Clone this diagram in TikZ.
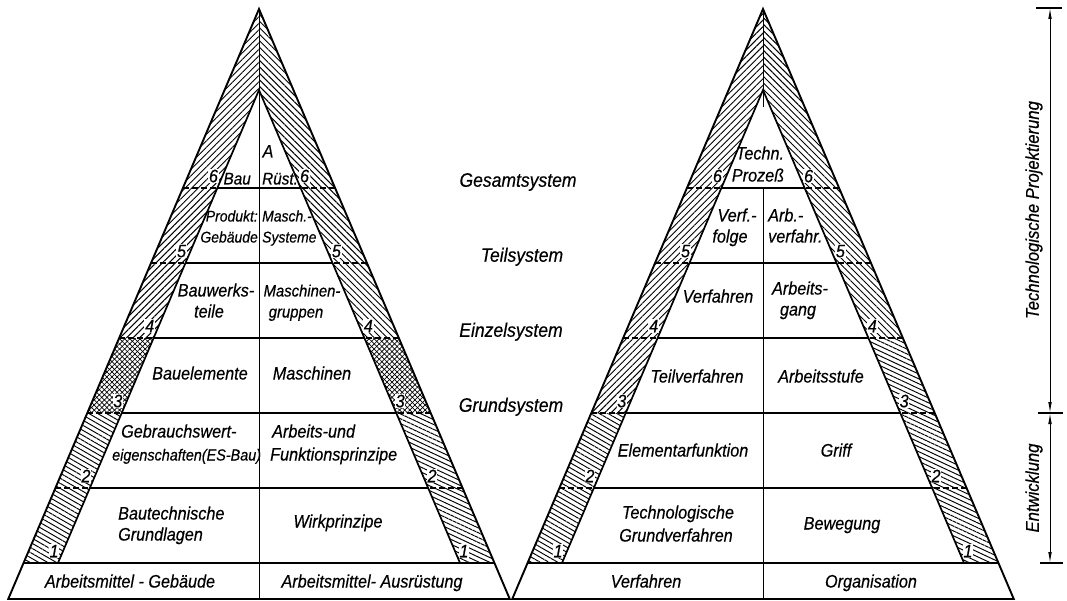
\documentclass[tikz,border=0pt]{standalone}
\usepackage{fontspec}
\setmainfont{Liberation Sans}[FakeStretch=0.9,FakeBold=0.4]
\usetikzlibrary{patterns.meta,arrows.meta}

\tikzset{
  outline/.style={line width=1.9pt, line join=miter},
  inedge/.style={line width=1.7pt, line join=miter},
  levelline/.style={line width=1.1pt},
  bandlevel/.style={line width=1.1pt, dash pattern=on 6pt off 3pt},
  midline/.style={line width=1pt},
  lbl/.style={font=\fontsize{18}{20}\selectfont\itshape, inner sep=0pt, text height=12.5pt, text depth=3.5pt},
  lblsmall/.style={lbl, font=\fontsize{15.5}{18}\selectfont\itshape},
  lblmid/.style={lbl, font=\fontsize{17}{19}\selectfont\itshape},
  num/.style={font=\fontsize{18}{18}\selectfont\itshape, fill=white, inner sep=0.8pt, text height=12.5pt, text depth=0pt},
  sys/.style={font=\fontsize{19.5}{21}\selectfont\itshape, inner sep=0pt, text height=13.5pt, text depth=4pt},
  dimlbl/.style={font=\fontsize{18.5}{20}\selectfont\itshape, inner sep=0pt},
  dimline/.style={line width=0.9pt, {Latex[length=11pt,width=3.6pt]}-{Latex[length=11pt,width=3.6pt]}},
  tickline/.style={line width=1.2pt},
  hNE/.style={pattern={Lines[angle=45,distance=4.6pt,line width=0.95pt]}},
  hNW/.style={pattern={Lines[angle=135,distance=4.6pt,line width=0.95pt]}},
  hX1/.style={pattern={Lines[angle=45,distance=3.6pt,line width=0.7pt]}},
  hX2/.style={pattern={Lines[angle=135,distance=3.6pt,line width=0.7pt]}},
  hLL/.style={pattern={Lines[angle=150,distance=4.4pt,line width=0.95pt]}},
  hRL/.style={pattern={Lines[angle=155,distance=4.4pt,line width=0.95pt]}},
}

% band pieces: #1 centre x, outer apex y=9, inner apex y=90, half slope 0.425
\newcommand\bandtopL[3]{\fill[#3] (#1,9) -- ({#1-0.425*(#2-9)},#2) -- ({#1-0.425*(#2-90)},#2) -- (#1,90) -- cycle;}
\newcommand\bandtopR[3]{\fill[#3] (#1,9) -- ({#1+0.425*(#2-9)},#2) -- ({#1+0.425*(#2-90)},#2) -- (#1,90) -- cycle;}
\newcommand\bandL[4]{\fill[#4] ({#1-0.425*(#2-9)},#2) -- ({#1-0.425*(#3-9)},#3) -- ({#1-0.425*(#3-90)},#3) -- ({#1-0.425*(#2-90)},#2) -- cycle;}
\newcommand\bandR[4]{\fill[#4] ({#1+0.425*(#2-9)},#2) -- ({#1+0.425*(#3-9)},#3) -- ({#1+0.425*(#3-90)},#3) -- ({#1+0.425*(#2-90)},#2) -- cycle;}
\newcommand\numL[4]{\node[num] (#4) at ({#1-0.425*(#2-102)-9},{#2-12}) {#3};}
\newcommand\numR[4]{\node[num] (#4) at ({#1+0.425*(#2-102)+9},{#2-12}) {#3};}
\newcommand\dashL[2]{\draw[bandlevel] ({#1-0.425*(#2-9)},#2) -- ({#1-0.425*(#2-90)},#2);}
\newcommand\dashR[2]{\draw[bandlevel] ({#1+0.425*(#2-9)},#2) -- ({#1+0.425*(#2-90)},#2);}
\newcommand\innerlevel[2]{\draw[levelline] ({#1-0.425*(#2-90)},#2) -- ({#1+0.425*(#2-90)},#2);}

\begin{document}
\begin{tikzpicture}[x=1pt,y=-1pt]
\useasboundingbox (0,0) rectangle (1067,601);

% ---------- hatching, left pyramid ----------
\bandtopL{259}{338}{hNE}
\bandL{259}{338}{413}{hX1}
\bandL{259}{338}{413}{hX2}
\bandL{259}{413}{563}{hLL}
\bandtopR{259}{338}{hNW}
\bandR{259}{338}{413}{hX1}
\bandR{259}{338}{413}{hX2}
\bandR{259}{413}{563}{hRL}
% ---------- hatching, right pyramid ----------
\bandtopL{763}{413}{hNE}
\bandL{763}{413}{563}{hLL}
\bandtopR{763}{338}{hNW}
\bandR{763}{338}{563}{hRL}

% ---------- level numbers ----------
\numL{259}{188}{6}{lpl6} \numR{259}{188}{6}{lpr6}
\numL{259}{263}{5}{lpl5} \numR{259}{263}{5}{lpr5}
\numL{259}{338}{4}{lpl4} \numR{259}{338}{4}{lpr4}
\numL{259}{413}{3}{lpl3} \numR{259}{413}{3}{lpr3}
\numL{259}{488}{2}{lpl2} \numR{259}{488}{2}{lpr2}
\numL{259}{563}{1}{lpl1} \numR{259}{563}{1}{lpr1}
\numL{763}{188}{6}{rpl6} \numR{763}{188}{6}{rpr6}
\numL{763}{263}{5}{rpl5} \numR{763}{263}{5}{rpr5}
\numL{763}{338}{4}{rpl4} \numR{763}{338}{4}{rpr4}
\numL{763}{413}{3}{rpl3} \numR{763}{413}{3}{rpr3}
\numL{763}{488}{2}{rpl2} \numR{763}{488}{2}{rpr2}
\numL{763}{563}{1}{rpl1} \numR{763}{563}{1}{rpr1}

% ---------- level lines ----------
\foreach \L in {188,263,338,413,488}{
  \dashL{259}{\L} \dashR{259}{\L} \innerlevel{259}{\L}
  \dashL{763}{\L} \dashR{763}{\L} \innerlevel{763}{\L}
}
\draw[levelline, line width=1.4pt] ({259-0.425*554},563) -- ({259+0.425*554},563);
\draw[levelline, line width=1.4pt] ({763-0.425*554},563) -- ({763+0.425*554},563);

% ---------- centre lines ----------
\draw[midline] (259,9) -- (259,599);
\draw[midline] (763,9) -- (763,107);
\draw[midline] (763,188) -- (763,599);

% ---------- outlines ----------
\draw[outline] ({259-0.425*590},599) -- (259,9) -- ({259+0.425*590},599) -- cycle;
\draw[inedge] ({259-0.425*473},563) -- (259,90) -- ({259+0.425*473},563);
\draw[outline] ({763-0.425*590},599) -- (763,9) -- ({763+0.425*590},599) -- cycle;
\draw[inedge] ({763-0.425*473},563) -- (763,90) -- ({763+0.425*473},563);

% ---------- texts, left pyramid ----------
\node[lbl] (tA) at (268,153) {A};
\node[lblmid, anchor=west] (tRuest) at (262,180) {Rüst.};
\node[lblmid, anchor=east] (tBau) at (251,180) {Bau};
\node[lblsmall, anchor=east] (tProdukt) at (258,217) {Produkt:};
\node[lblsmall, anchor=east] (tGebaeude) at (258,238) {Gebäude};
\node[lblsmall, anchor=west] (tMasch) at (262,217) {Masch.-};
\node[lblsmall, anchor=west] (tSysteme) at (262,238) {Systeme};
\node[lbl] (tBauwerks) at (216,292) {Bauwerks-};
\node[lbl] (tteile) at (209,313) {teile};
\node[lbl, font=\fontsize{16.5}{18}\selectfont\itshape] (tMaschinen) at (302,292) {Maschinen-};
\node[lbl, font=\fontsize{16.5}{18}\selectfont\itshape] (tgruppen) at (296,313) {gruppen};
\node[lbl] (tBauelemente) at (200,375) {Bauelemente};
\node[lbl] (tMaschinen2) at (312,375) {Maschinen};
\node[lbl, anchor=west] (tGebrauch) at (121,433) {Gebrauchswert-};
\node[lbl, anchor=west, font=\fontsize{16}{18}\selectfont\itshape] (teigen) at (112,456) {eigenschaften(ES-Bau)};
\node[lbl, anchor=west] (tArbeitsund) at (272,433) {Arbeits-und};
\node[lbl, anchor=west] (tFunktion) at (270,456) {Funktionsprinzipe};
\node[lbl, anchor=west] (tBautech) at (118,515) {Bautechnische};
\node[lbl, anchor=west] (tGrundlagen) at (118,536) {Grundlagen};
\node[lbl] (tWirk) at (338,523) {Wirkprinzipe};
\node[lbl] (tAMGeb) at (130,583) {Arbeitsmittel - Gebäude};
\node[lbl] (tAMAus) at (372,583) {Arbeitsmittel- Ausrüstung};

% ---------- texts, right pyramid ----------
\node[lbl] (tTechn) at (760,155) {Techn.};
\node[lbl] (tProzess) at (758,177) {Prozeß};
\node[lbl] (tVerf) at (737,217) {Verf.-};
\node[lbl] (tfolge) at (730,238) {folge};
\node[lbl, anchor=west] (tArb) at (768,217) {Arb.-};
\node[lbl, anchor=west] (tverfahr) at (768,238) {verfahr.};
\node[lbl] (tVerfahren) at (718,298) {Verfahren};
\node[lbl] (tArbeits) at (800,290) {Arbeits-};
\node[lbl] (tgang) at (798,311) {gang};
\node[lbl] (tTeilverf) at (697,378) {Teilverfahren};
\node[lbl] (tArbeitsstufe) at (821,378) {Arbeitsstufe};
\node[lbl] (tElementar) at (683,452) {Elementarfunktion};
\node[lbl] (tGriff) at (836,452) {Griff};
\node[lbl] (tTechnol) at (678,514) {Technologische};
\node[lbl] (tGrundverf) at (676,537) {Grundverfahren};
\node[lbl] (tBewegung) at (842,525) {Bewegung};
\node[lbl] (tVerfBase) at (646,583) {Verfahren};
\node[lbl] (tOrg) at (871,583) {Organisation};

% ---------- system levels ----------
\node[sys] (sG) at (518,182) {Gesamtsystem};
\node[sys] (sT) at (522,257) {Teilsystem};
\node[sys] (sE) at (511,332) {Einzelsystem};
\node[sys] (sGr) at (511,407) {Grundsystem};

% ---------- dimension line ----------
\coordinate (dT) at (1050,8);
\coordinate (dM) at (1050,413);
\coordinate (dB) at (1050,563);
\draw[dimline] (dT) -- (dM);
\draw[dimline] (dM) -- (dB);
\draw[tickline] (1036,8) -- (1062,8);
\draw[tickline] (1038,413) -- (1063,413);
\draw[tickline] (1040,563) -- (1063,563);
\node[dimlbl, rotate=90] (lTP) at (1034,210) {Technologische Projektierung};
\node[dimlbl, rotate=90] (lEW) at (1034,488) {Entwicklung};
\end{tikzpicture}
\end{document}
